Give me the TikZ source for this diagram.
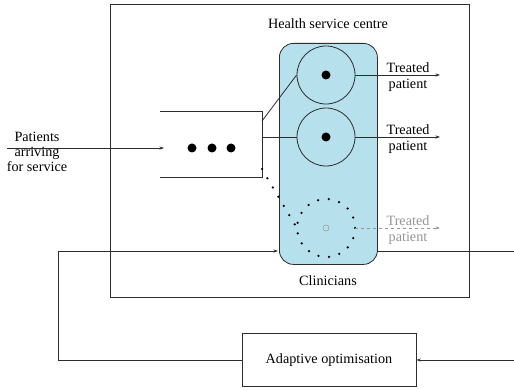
\documentclass[tikz,border=0pt]{standalone}
\usepackage{fontspec}
\setmainfont{Liberation Serif}
\usetikzlibrary{arrows.meta}
\definecolor{clinblue}{RGB}{182,224,236}
\definecolor{linegray}{RGB}{45,45,45}
\definecolor{fadegray}{RGB}{150,150,150}
\begin{document}
\begin{tikzpicture}[x=1pt,y=-1pt,
  ln/.style={draw=linegray, line width=0.8pt},
  arr/.style={ln, -{Stealth[length=4.5pt,width=3pt]}},
  lbl/.style={font=\fontsize{14.2}{15.2}\selectfont, align=center, inner sep=0pt},
  box/.style={draw=linegray, line width=0.8pt, inner sep=0pt},
  serv/.style={circle, draw=linegray, line width=0.8pt, minimum size=58pt, inner sep=0pt},
  bigdot/.style={circle, fill=black, minimum size=9pt, inner sep=0pt},
  dotline/.style={draw=black, line width=2.5pt, line cap=round, dash pattern=on 0pt off 10.72pt}
]
\useasboundingbox (0,0) rectangle (514,390);
% outer box
\node[box, minimum width=359pt, minimum height=293pt, anchor=north west] (hsc) at (110,4) {};
\node[lbl] (hsclbl) at (328,24) {Health service centre};
% clinicians
\node[box, fill=clinblue, rounded corners=14pt, minimum width=98pt, minimum height=221pt, anchor=north west] (clin) at (279,43) {};
\node[lbl] (clinlbl) at (328,281) {Clinicians};
% servers
\node[serv] (c1) at (326,75) {};
\node[serv] (c2) at (326,137) {};
\node[circle, minimum size=58pt, inner sep=0pt] (c3) at (326,228) {};
\draw[dotline] (c3.east) arc[start angle=0, end angle=360, radius=29pt];
\node[bigdot] (d1) at (c1) {};
\node[bigdot] (d2) at (c2) {};
\node[circle, draw=fadegray, line width=0.5pt, minimum size=6pt, inner sep=0pt] (d3) at (c3) {};
% outputs
\coordinate (o1) at (440,75);
\coordinate (o2) at (440,137);
\coordinate (o3) at (440,228);
\draw[arr] (c1.east) -- (o1);
\draw[arr] (c2.east) -- (o2);
\draw[ln, draw=fadegray, dashed, -{Stealth[length=4.5pt,width=3pt]}] (c3.east) -- (o3);
\node[lbl] (t1) at (408,77) {Treated\\patient};
\node[lbl] (t2) at (408,139) {Treated\\patient};
\node[lbl, text=fadegray] (t3) at (408,230) {Treated\\patient};
% queue
\coordinate (qtl) at (160,111);
\coordinate (qtr) at (262,111);
\coordinate (qbr) at (262,177);
\coordinate (qbl) at (160,177);
\draw[ln] (qtl) -- (qtr) -- (qbr) -- (qbl);
\node[bigdot] (q1) at (192,148) {};
\node[bigdot] (q2) at (212,148) {};
\node[bigdot] (q3) at (231,148) {};
\coordinate (qa) at (262,121);
\coordinate (qb) at (262,137);
\coordinate (qc) at (262,169);
\draw[ln] (qa) -- (c1.west);
\draw[ln] (qb) -- (c2.west);
\draw[dotline] (qc) -- (c3.west);
% input
\coordinate (in) at (7,148);
\coordinate (inend) at (164,148);
\draw[arr] (in) -- (inend);
\node[lbl] (inlbl) at (37,152) {Patients\\arriving\\for service};
% feedback
\node[box, minimum width=174pt, minimum height=53pt] (ao) at (329,360) {\fontsize{14.2}{15.2}\selectfont Adaptive optimisation};
\coordinate (fl1) at (58,360);
\coordinate (fl2) at (58,251);
\coordinate (fin) at (278,251);
\draw[arr] (ao.west) -- (fl1) -- (fl2) -- (fin);
\coordinate (fr0) at (377,251);
\coordinate (fr1) at (514,251);
\coordinate (fr2) at (514,360);
\draw[ln] (fr0) -- (fr1);
\draw[arr] (fr2) -- (ao.east);
\end{tikzpicture}
\end{document}
